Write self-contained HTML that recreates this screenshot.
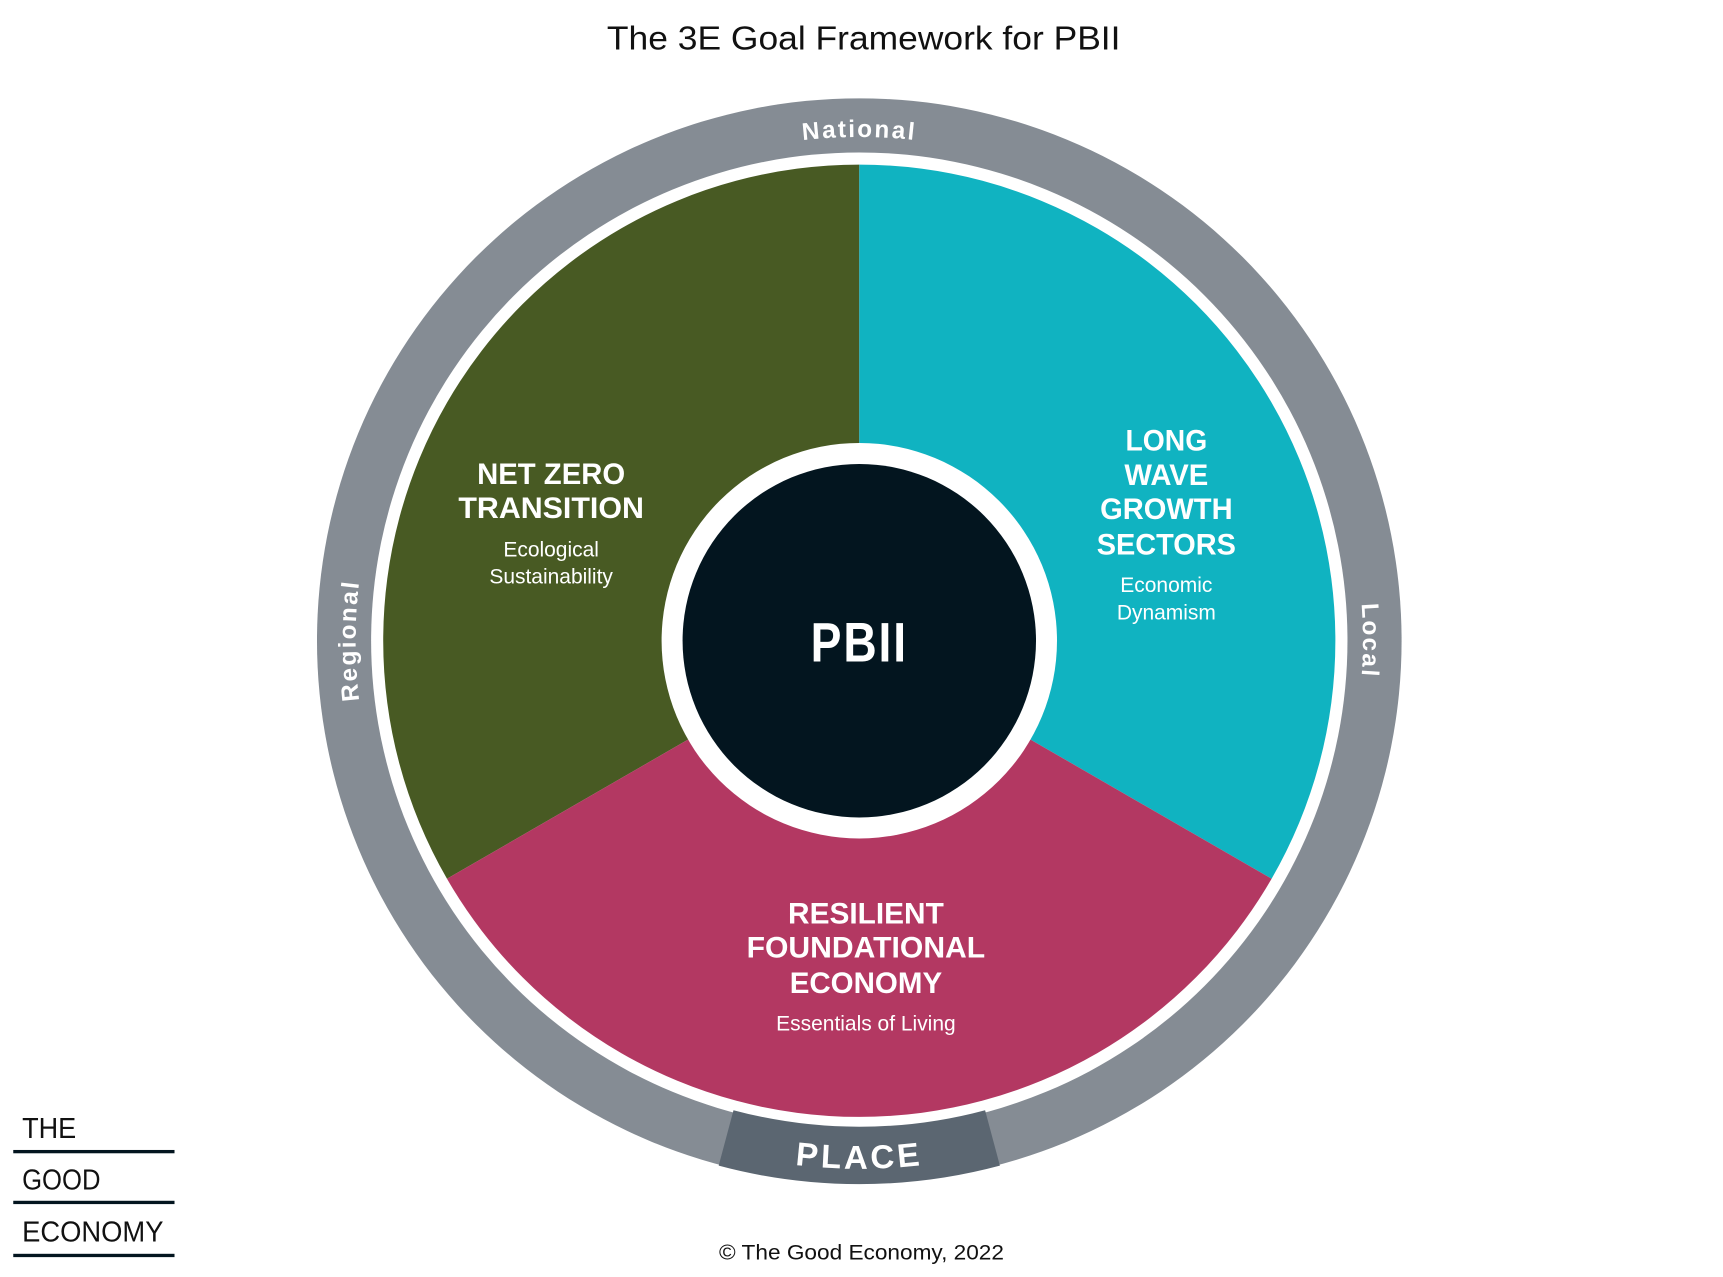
<!DOCTYPE html>
<html><head><meta charset="utf-8"><style>
html,body{margin:0;padding:0;background:#fff;width:1723px;height:1277px;overflow:hidden}
svg{display:block}
text{font-family:"Liberation Sans",sans-serif}
</style></head><body>
<svg width="1723" height="1277" viewBox="0 0 1560 1156" preserveAspectRatio="none" xmlns="http://www.w3.org/2000/svg">
<defs>
<path id="ring" d="M 782,1039 A 456 456 0 1 1 782,127 A 456 456 0 1 1 782,1039"/>
<path id="placep" d="M 304,583 A 478 478 0 0 0 1260,583"/>
</defs>
<g transform="translate(-4,-3)">
<text x="786" y="48" text-anchor="middle" font-size="30" fill="#111" textLength="465" lengthAdjust="spacingAndGlyphs">The 3E Goal Framework for PBII</text>
<circle cx="782" cy="583" r="491" fill="#858c94"/>
<circle cx="782" cy="583" r="442" fill="#fff"/>
<path d="M668.1,1008 A440 440 0 0 0 895.9,1008 L909.3,1058.2 A492 492 0 0 1 654.7,1058.2 Z" fill="#5b6671"/>
<path d="M782,583 L782,152 A431 431 0 0 0 408.7,798.5 Z" fill="#485a23"/>
<path d="M782,583 L782,152 A431 431 0 0 1 1155.3,798.5 Z" fill="#10b3c1"/>
<path d="M782,583 L1155.3,798.5 A431 431 0 0 1 408.7,798.5 Z" fill="#b33862"/>
<circle cx="782" cy="583" r="179" fill="#fff"/>
<circle cx="782" cy="583" r="160" fill="#03151f"/>
<text x="782" y="602" text-anchor="middle" font-size="50" font-weight="bold" fill="#fff" letter-spacing="2" textLength="88" lengthAdjust="spacingAndGlyphs">PBII</text>
<g font-size="22" font-weight="bold" fill="#fff" letter-spacing="2">
<text><textPath href="#ring" startOffset="25%" text-anchor="middle">Regional</textPath></text>
<text><textPath href="#ring" startOffset="50%" text-anchor="middle">National</textPath></text>
<text><textPath href="#ring" startOffset="75%" text-anchor="middle">Local</textPath></text>
</g>
<text font-size="30" font-weight="bold" fill="#fff" letter-spacing="3"><textPath href="#placep" startOffset="50%" text-anchor="middle">PLACE</textPath></text>
<g fill="#fff" text-anchor="middle" font-weight="bold" font-size="27" lengthAdjust="spacingAndGlyphs">
<text x="503" y="441" textLength="134" lengthAdjust="spacingAndGlyphs">NET ZERO</text>
<text x="503" y="472" textLength="168" lengthAdjust="spacingAndGlyphs">TRANSITION</text>
<text x="1060" y="411" textLength="74" lengthAdjust="spacingAndGlyphs">LONG</text>
<text x="1060" y="442" textLength="76" lengthAdjust="spacingAndGlyphs">WAVE</text>
<text x="1060" y="473" textLength="120" lengthAdjust="spacingAndGlyphs">GROWTH</text>
<text x="1060" y="505" textLength="126" lengthAdjust="spacingAndGlyphs">SECTORS</text>
<text x="788" y="839" textLength="141" lengthAdjust="spacingAndGlyphs">RESILIENT</text>
<text x="788" y="870" textLength="216" lengthAdjust="spacingAndGlyphs">FOUNDATIONAL</text>
<text x="788" y="902" textLength="138" lengthAdjust="spacingAndGlyphs">ECONOMY</text>
</g>
<g fill="#fff" text-anchor="middle" font-size="19">
<text x="503" y="507">Ecological</text>
<text x="503" y="531">Sustainability</text>
<text x="1060" y="539">Economic</text>
<text x="1060" y="564">Dynamism</text>
<text x="788" y="936">Essentials of Living</text>
</g>
</g>
<g fill="#111" font-size="26">
<text x="20" y="1030" textLength="49" lengthAdjust="spacingAndGlyphs">THE</text>
<text x="20" y="1077" textLength="71" lengthAdjust="spacingAndGlyphs">GOOD</text>
<text x="20" y="1124" textLength="128" lengthAdjust="spacingAndGlyphs">ECONOMY</text>
</g>
<g fill="#03151f">
<rect x="12" y="1041" width="146" height="3"/>
<rect x="12" y="1087" width="146" height="3"/>
<rect x="12" y="1135" width="146" height="3"/>
</g>
<text x="780" y="1140" text-anchor="middle" font-size="19" fill="#111" textLength="258" lengthAdjust="spacingAndGlyphs">© The Good Economy, 2022</text>
</svg>
</body></html>
